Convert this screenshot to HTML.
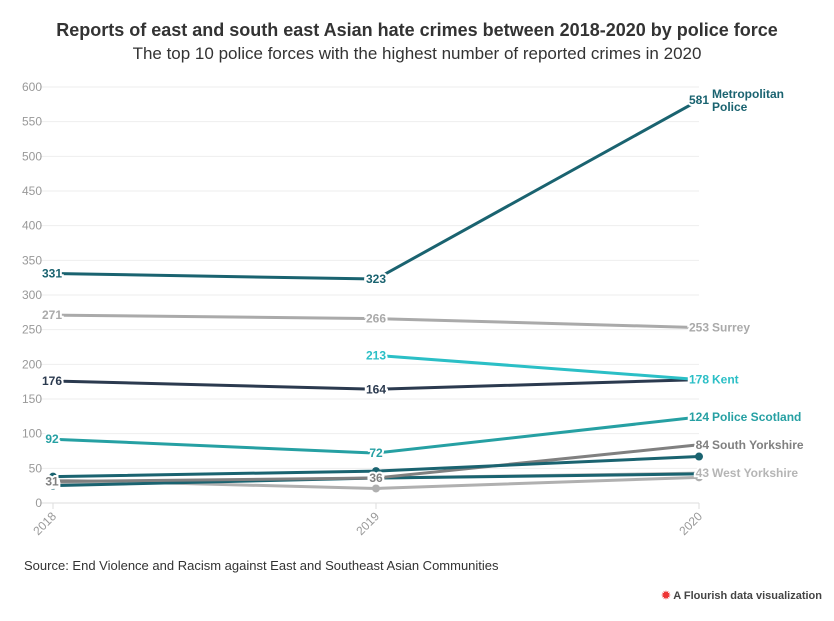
<!DOCTYPE html>
<html><head><meta charset="utf-8"><style>
body{margin:0;background:#fff;font-family:"Liberation Sans",sans-serif;width:834px;height:621px;overflow:hidden;position:relative}
#title{position:absolute;top:20px;left:0;width:834px;text-align:center;font-size:18px;font-weight:bold;color:#333}
#sub{position:absolute;top:44px;left:0;width:834px;text-align:center;font-size:17px;color:#333}
#src{position:absolute;top:558px;left:24px;font-size:13px;color:#333}
#fl{position:absolute;top:589px;right:12px;font-size:11px;color:#444;font-weight:bold}
</style></head><body>
<div id="title">Reports of east and south east Asian hate crimes between 2018-2020 by police force</div>
<div id="sub">The top 10 police forces with the highest number of reported crimes in 2020</div>
<svg id="chart" width="834" height="621" style="position:absolute;left:0;top:0"></svg>
<div id="src">Source: End Violence and Racism against East and Southeast Asian Communities</div>
<div id="fl"><span style="color:#e33">✹</span> A Flourish data visualization</div>
<script>
const years=["2018","2019","2020"];
const yTicks=[0,50,100,150,200,250,300,350,400,450,500,550,600];
const names=["Metropolitan Police","Surrey","Kent","Force 4","Police Scotland","Force 6","South Yorkshire","Force 8","West Yorkshire","Force 10"];
const colors=["#1a6370","#aaaaaa","#2bbfc6","#2b3a4f","#26a0a3","#1a6370","#808080","#1a6370","#b5b5b5","#b0b0b0"];
const s0=[331,323,581];
const s1=[271,266,253];
const s2=[null,213,178];
const s3=[176,164,178];
const s4=[92,72,124];
const s5=[38,46,67];
const s6=[31,36,84];
const s7=[25,36,42];
const s8=[29,36,43];
const s9=[33,21,37];
const series=[s0,s1,s2,s3,s4,s5,s6,s7,s8,s9];
const showLabels=[true,true,true,true,true,false,true,false,true,false];
const endLabels=["Metropolitan\nPolice","Surrey","Kent","","Police Scotland","","South Yorkshire","","West Yorkshire",""];
const svg=document.getElementById('chart');
const NS="http://www.w3.org/2000/svg";
const x=i=>53+i*323;
const y=v=>503-v*(416/600);
function mk(t,a,txt){const e=document.createElementNS(NS,t);for(const k in a)e.setAttribute(k,a[k]);if(txt!=null)e.textContent=txt;svg.appendChild(e);return e;}
yTicks.forEach(t=>{
 const g=mk('line',{x1:40,x2:699,y1:y(t),y2:y(t),stroke:t==0?'#ddd':'#eee','stroke-width':1});
 
 
 const l=mk('text',{x:42,y:y(t)+4,'text-anchor':'end','font-size':12,fill:'#999','font-family':'Liberation Sans'},t);
 
 
});
years.forEach((yr,i)=>{
 mk('line',{x1:x(i),x2:x(i),y1:503,y2:509,stroke:'#ddd'});
 const l=mk('text',{x:x(i)+4,y:517,'text-anchor':'end','font-size':12,fill:'#999','font-family':'Liberation Sans',transform:`rotate(-45 ${x(i)+4} 517)`},yr);
 
 
});
for(let k=series.length-1;k>=0;k--){
 const d=series[k];let p='';
 d.forEach((v,i)=>{if(v==null)return;p+=(p?'L':'M')+x(i)+','+y(v);});
 const path=mk('path',{d:p,fill:'none',stroke:colors[k],'stroke-width':3,'stroke-linejoin':'round'});
 
 
 if(!showLabels[k]){d.forEach((v,i)=>{if(v==null)return;const c=mk('circle',{cx:x(i),cy:y(v),r:4,fill:colors[k]});});}
}
for(let k=series.length-1;k>=0;k--){
 if(!showLabels[k])continue;
 const d=series[k];
 d.forEach((v,i)=>{
  if(v==null)return;
  if(i==2&&!endLabels[k])return;
  const anchor=i==2?'end':'middle';
  const tx=i==0?x(i)-1:(i==2?x(i)+10:x(i));
  const bg=mk('text',{x:tx,y:y(v)+4,'text-anchor':anchor,'font-size':12,'font-weight':'bold',fill:colors[k],stroke:'#fff','stroke-width':4,'paint-order':'stroke','font-family':'Liberation Sans'},v);
  
  
 });
 const lines=endLabels[k].split('\n');
 const v=d[2];
 lines.forEach((ln,j)=>{
  if(!ln)return;
  const t=mk('text',{x:712,y:y(v)+4+j*13-(lines.length>1?6:0),'font-size':12,'font-weight':'bold',fill:colors[k],'font-family':'Liberation Sans'},ln);
  
  
 });
}
</script>
</body></html>
